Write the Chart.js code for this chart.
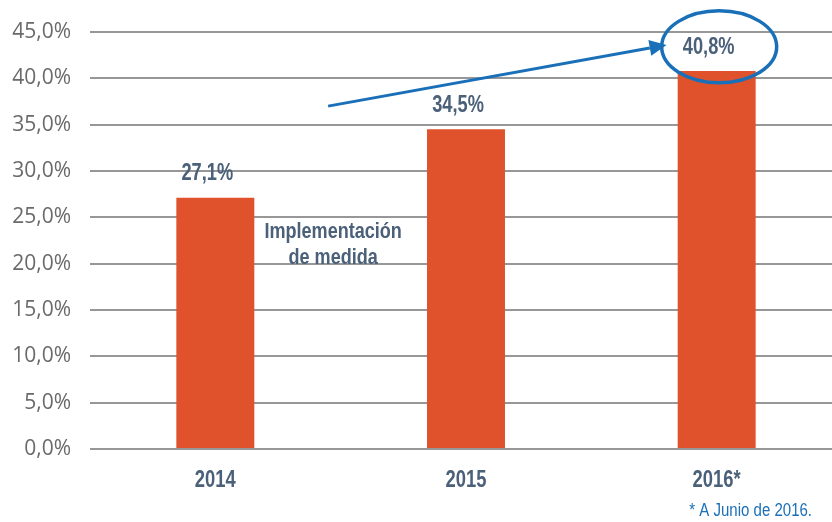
<!DOCTYPE html>
<html>
<head>
<meta charset="utf-8">
<script src="https://cdn.jsdelivr.net/npm/chart.js@4.4.0/dist/chart.umd.min.js"></script>
<style>
    html, body { margin: 0; padding: 0; background: #fff; overflow: hidden; }
    #wrap { width: 842px; height: 522px; }
</style>
</head>
<body>
<div id="wrap"><canvas id="chart" width="842" height="522"></canvas></div>
<script>
// Data
const years = ['2014', '2015', '2016*'];
const shares = [27.1, 34.5, 40.8];
const yMin = 0;
const yMax = 45;
const yStep = 5;
const noteLines = ['Implementación', 'de medida'];
const footnote = '* A Junio de 2016.';

const slate = '#4b6079';
const blue = '#1a70b8';
const sans = '"Liberation Sans", Arial, sans-serif';

const pct = v => v.toFixed(1).replace('.', ',') + '%';

// text drawn horizontally squeezed, so it looks like a condensed face
function narrowText(ctx, text, px, py, squeeze, align) {
    ctx.save();
    ctx.translate(px, py);
    ctx.scale(squeeze, 1);
    ctx.textAlign = align || 'center';
    ctx.fillText(text, 0, 0);
    ctx.restore();
}

// Draws value labels, x labels, the note, the trend arrow, the ellipse and the footnote
const overlay = {
    id: 'overlay',
    afterDatasetsDraw(chart) {
        const { ctx, scales: { x, y } } = chart;
        const meta = chart.getDatasetMeta(0);
        ctx.save();

        ctx.fillStyle = slate;
        ctx.textBaseline = 'middle';
        ctx.font = 'bold 24px ' + sans;
        meta.data.forEach((bar, i) => {
            narrowText(ctx, pct(shares[i]), bar.x - 8, bar.y - 24, 0.76);
        });

        // category labels under the axis
        ctx.font = 'bold 23px ' + sans;
        years.forEach((yr, i) => {
            narrowText(ctx, yr, x.getPixelForValue(i), y.bottom + 32, 0.8);
        });

        // note between first and second bar
        ctx.font = 'bold 21.5px ' + sans;
        narrowText(ctx, noteLines[0], x.getPixelForValue(0.47), y.getPixelForValue(23.4), 0.84);
        narrowText(ctx, noteLines[1], x.getPixelForValue(0.47), y.getPixelForValue(20.6), 0.84);

        // arrow
        const sx = x.getPixelForValue(0.45), sy = y.getPixelForValue(37.0);
        const tx = x.getPixelForValue(1.8), ty = y.getPixelForValue(43.6);
        const ang = Math.atan2(ty - sy, tx - sx);
        const headLen = 17, headHalf = 8;
        const bx = tx - headLen * Math.cos(ang), by = ty - headLen * Math.sin(ang);
        ctx.strokeStyle = blue;
        ctx.fillStyle = blue;
        ctx.lineWidth = 3;
        ctx.beginPath();
        ctx.moveTo(sx, sy);
        ctx.lineTo(bx, by);
        ctx.stroke();
        ctx.beginPath();
        ctx.moveTo(tx, ty);
        ctx.lineTo(bx + headHalf * Math.sin(ang), by - headHalf * Math.cos(ang));
        ctx.lineTo(bx - headHalf * Math.sin(ang), by + headHalf * Math.cos(ang));
        ctx.closePath();
        ctx.fill();

        // ellipse round the last value
        ctx.lineWidth = 3.5;
        ctx.beginPath();
        ctx.ellipse(x.getPixelForValue(2.01), y.getPixelForValue(43.4), 57.5, 36, 0, 0, Math.PI * 2);
        ctx.stroke();

        // footnote
        ctx.font = '18px ' + sans;
        narrowText(ctx, footnote, 812, 511, 0.834, 'right');

        ctx.restore();
    }
};

new Chart(document.getElementById('chart'), {
    type: 'bar',
    data: {
        labels: years,
        datasets: [{
            data: shares,
            backgroundColor: '#df522b',
            borderWidth: 0,
            barPercentage: 0.311,
            categoryPercentage: 1
        }]
    },
    options: {
        responsive: false,
        animation: false,
        layout: { padding: { top: 32, left: 0, right: 0, bottom: 0 } },
        plugins: {
            legend: { display: false },
            tooltip: { enabled: false }
        },
        scales: {
            x: {
                grid: { display: false },
                border: { display: false },
                ticks: { display: false },
                afterFit(axis) { axis.height = 73; }
            },
            y: {
                min: yMin,
                max: yMax,
                border: { display: false },
                grid: { color: '#979797', lineWidth: 2, drawTicks: false },
                ticks: {
                    stepSize: yStep,
                    color: '#6a6a6a',
                    font: { family: '"Open Sans", sans-serif', size: 21 },
                    padding: 19,
                    callback: v => pct(v)
                },
                afterFit(axis) { axis.width = 90; }
            }
        }
    },
    plugins: [overlay]
});
</script>
</body>
</html>
